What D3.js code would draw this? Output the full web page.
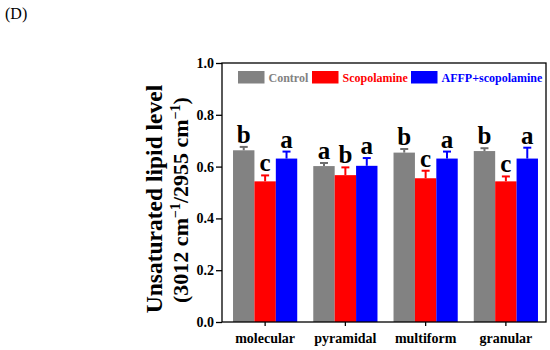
<!DOCTYPE html>
<html>
<head>
<meta charset="utf-8">
<script src="https://cdn.jsdelivr.net/npm/d3@7"></script>
<style>
body { margin: 0; background: #fff; }
svg { display: block; }
text { font-family: "Liberation Serif", "Times New Roman", serif; }
</style>
</head>
<body>
<svg id="chart" width="550" height="350"></svg>
<script>
const categories = ["molecular", "pyramidal", "multiform", "granular"];
const seriesNames = ["Control", "Scopolamine", "AFFP+scopolamine"];
const seriesColors = ["#828282", "#ff0000", "#0000ff"];
const capColors = ["#6e6e6e", "#ff0000", "#0000ff"];
const controlValues = [0.663, 0.602, 0.654, 0.660];
const scopolamineValues = [0.543, 0.567, 0.555, 0.543];
const affpValues = [0.631, 0.603, 0.631, 0.631];
const controlErrors = [0.013, 0.012, 0.014, 0.011];
const scopolamineErrors = [0.023, 0.030, 0.029, 0.019];
const affpErrors = [0.027, 0.030, 0.027, 0.042];
const controlLetters = ["b", "a", "b", "b"];
const scopolamineLetters = ["c", "b", "c", "c"];
const affpLetters = ["a", "a", "a", "a"];
const yTicks = [0.0, 0.2, 0.4, 0.6, 0.8, 1.0];

const values = [controlValues, scopolamineValues, affpValues];
const errors = [controlErrors, scopolamineErrors, affpErrors];
const letters = [controlLetters, scopolamineLetters, affpLetters];

const svg = d3.select("#chart");
const pLeft = 222, pRight = 546, pTop = 63, pBottom = 322;

const x = d3.scaleBand().domain(categories).range([225, 546]).paddingInner(0.2).paddingOuter(0.1);
const xs = d3.scaleBand().domain(d3.range(seriesNames.length)).range([0, x.bandwidth()]);
const y = d3.scaleLinear().domain([0, 1]).range([pBottom, pTop]);

// bars
seriesNames.forEach((name, si) => {
  const g = svg.append("g");
  g.selectAll("rect").data(categories).join("rect")
    .attr("x", c => x(c) + xs(si))
    .attr("y", (c, i) => y(values[si][i]))
    .attr("width", xs.bandwidth())
    .attr("height", (c, i) => y(0) - y(values[si][i]))
    .attr("fill", seriesColors[si]);
  g.selectAll("line.err").data(categories).join("line")
    .attr("class", "err")
    .attr("x1", c => x(c) + xs(si) + xs.bandwidth() / 2)
    .attr("x2", c => x(c) + xs(si) + xs.bandwidth() / 2)
    .attr("y1", (c, i) => y(values[si][i]))
    .attr("y2", (c, i) => y(values[si][i] + errors[si][i]))
    .attr("stroke", capColors[si]).attr("stroke-width", 2);
  g.selectAll("line.cap").data(categories).join("line")
    .attr("class", "cap")
    .attr("x1", c => x(c) + xs(si) + xs.bandwidth() / 2 - 4)
    .attr("x2", c => x(c) + xs(si) + xs.bandwidth() / 2 + 4)
    .attr("y1", (c, i) => y(values[si][i] + errors[si][i]))
    .attr("y2", (c, i) => y(values[si][i] + errors[si][i]))
    .attr("stroke", capColors[si]).attr("stroke-width", 2);
  g.selectAll("text").data(categories).join("text")
    .attr("x", c => x(c) + xs(si) + xs.bandwidth() / 2)
    .attr("y", (c, i) => y(values[si][i] + errors[si][i]) - 4)
    .attr("text-anchor", "middle")
    .attr("font-size", 25).attr("font-weight", "bold")
    .text((c, i) => letters[si][i]);
});

// frame
svg.append("rect").attr("x", pLeft).attr("y", pTop).attr("width", pRight - pLeft).attr("height", pBottom - pTop)
  .attr("fill", "none").attr("stroke", "#000").attr("stroke-width", 1.3);

// y axis
const yAxis = svg.append("g").attr("transform", `translate(${pLeft},0)`)
  .call(d3.axisLeft(y).tickValues(yTicks).tickFormat(d3.format(".1f")).tickSize(6).tickPadding(2));
yAxis.select(".domain").remove();
yAxis.selectAll("line").attr("stroke-width", 1.3);
yAxis.selectAll("text").attr("font-size", 14).attr("font-weight", "bold").attr("fill", "#000")
  .style("font-family", "'Liberation Serif', serif");

// x axis
const xAxis = svg.append("g").attr("transform", `translate(0,${pBottom})`)
  .call(d3.axisBottom(x).tickSize(4).tickPadding(7));
xAxis.select(".domain").remove();
xAxis.selectAll("line").attr("stroke-width", 1.3);
xAxis.selectAll("text").attr("font-size", 14).attr("font-weight", "bold").attr("fill", "#000")
  .style("font-family", "'Liberation Serif', serif");

// y title
const yt = svg.append("text").attr("transform", `translate(162,199) rotate(-90)`)
  .attr("text-anchor", "middle").attr("font-size", 23.5).attr("font-weight", "bold");
yt.append("tspan").attr("x", 0).attr("y", 0).text("Unsaturated lipid level");
const yt2 = svg.append("text").attr("transform", `translate(188,200) rotate(-90)`)
  .attr("text-anchor", "middle").attr("font-size", 22).attr("font-weight", "bold");
yt2.append("tspan").text("(3012 cm");
yt2.append("tspan").attr("dy", -8).attr("font-size", 14).text("\u22121");
yt2.append("tspan").attr("dy", 8).text("/2955 cm");
yt2.append("tspan").attr("dy", -8).attr("font-size", 14).text("\u22121");
yt2.append("tspan").attr("dy", 8).text(")");

// legend
const legendX = [238, 312, 411];
const legend = svg.append("g");
seriesNames.forEach((name, si) => {
  legend.append("rect").attr("x", legendX[si]).attr("y", 71).attr("width", 26.5).attr("height", 12.5)
    .attr("fill", seriesColors[si]);
  legend.append("text").attr("x", legendX[si] + 30.5).attr("y", 82)
    .attr("font-size", 12).attr("font-weight", "bold").attr("fill", seriesColors[si]).text(name);
});

// panel label
svg.append("text").attr("x", 5).attr("y", 19).attr("font-size", 16).text("(D)");
</script>
</body>
</html>
